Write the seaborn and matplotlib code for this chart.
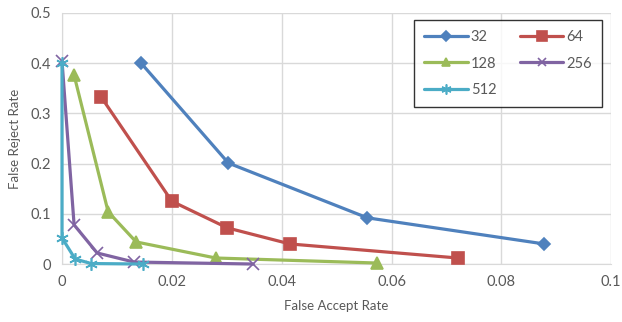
import pandas as pd
import seaborn as sns
import matplotlib.pyplot as plt
from matplotlib.ticker import FuncFormatter

# datos
far_32 = [0.0144, 0.0303, 0.0556, 0.0878]
frr_32 = [0.400, 0.201, 0.092, 0.040]
far_64 = [0.0071, 0.0200, 0.0301, 0.0415, 0.0721]
frr_64 = [0.333, 0.125, 0.072, 0.040, 0.012]
far_128 = [0.0022, 0.0084, 0.0135, 0.0280, 0.0574]
frr_128 = [0.376, 0.104, 0.044, 0.012, 0.002]
far_256 = [0.0, 0.0022, 0.0064, 0.0131, 0.0348]
frr_256 = [0.404, 0.078, 0.022, 0.004, 0.0]
far_512 = [0.0, 0.0, 0.0024, 0.0053, 0.0147]
frr_512 = [0.400, 0.052, 0.010, 0.001, 0.0]
series = ["32", "64", "128", "256", "512"]

filas = []
for nombre, xs, ys in zip(series,
                          [far_32, far_64, far_128, far_256, far_512],
                          [frr_32, frr_64, frr_128, frr_256, frr_512]):
    for x, y in zip(xs, ys):
        filas.append({"FAR": x, "FRR": y, "Serie": nombre})
df = pd.DataFrame(filas)

colores = {"32": "#4F81BD", "64": "#C0504D", "128": "#9BBB59",
           "256": "#8064A2", "512": "#4BACC6"}
marcadores = {"32": "D", "64": "s", "128": "^", "256": "x", "512": (6, 2, 0)}
tamanos = {"32": 6, "64": 9, "128": 8, "256": 8, "512": 9}

sns.set_style("white")
plt.rcParams["font.family"] = ["Lato", "DejaVu Sans"]

fig = plt.figure(figsize=(6.22, 3.22), dpi=100)
ax = fig.add_axes([0.0997, 0.180, 0.8829, 0.780])

for nombre in series:
    sub = df[df["Serie"] == nombre]
    sns.lineplot(data=sub, x="FAR", y="FRR", ax=ax, sort=False, estimator=None,
                 color=colores[nombre], marker=marcadores[nombre],
                 markersize=tamanos[nombre], markeredgewidth=1.2,
                 markeredgecolor=colores[nombre], linewidth=2.3, label=nombre,
                 clip_on=False, zorder=3)

ax.set_xlim(0, 0.1)
ax.set_ylim(0, 0.5)
ax.set_xticks([0, 0.02, 0.04, 0.06, 0.08, 0.1])
ax.set_yticks([0, 0.1, 0.2, 0.3, 0.4, 0.5])
fmt = FuncFormatter(lambda v, p: "%g" % round(v, 3))
ax.xaxis.set_major_formatter(fmt)
ax.yaxis.set_major_formatter(fmt)
ax.grid(True, color="#D9D9D9", linewidth=1)
ax.set_axisbelow(True)
for lado in ["top", "right"]:
    ax.spines[lado].set_visible(False)
for lado in ["left", "bottom"]:
    ax.spines[lado].set_color("#D9D9D9")
ax.tick_params(axis="both", length=0, labelsize=10.5, labelcolor="#595959", pad=8)
ax.set_xlabel("False Accept Rate", fontsize=9.5, color="#595959", labelpad=8)
ax.set_ylabel("False Reject Rate", fontsize=9.5, color="#595959", labelpad=7)

# orden por filas: 32 64 / 128 256 / 512
h, l = ax.get_legend_handles_labels()
orden = [0, 2, 4, 1, 3]
leg = ax.legend([h[i] for i in orden], [l[i] for i in orden], ncol=2,
                loc="upper right", bbox_to_anchor=(0.9836, 0.972), borderaxespad=0,
                frameon=True, fancybox=False, fontsize=10.5, handlelength=3.0,
                columnspacing=1.6, handletextpad=0.2, borderpad=0.7,
                labelspacing=0.85, labelcolor="#595959", markerscale=0.8)
leg.get_frame().set_edgecolor("black")
leg.get_frame().set_linewidth(1)

fig.savefig("out.png", dpi=100)
